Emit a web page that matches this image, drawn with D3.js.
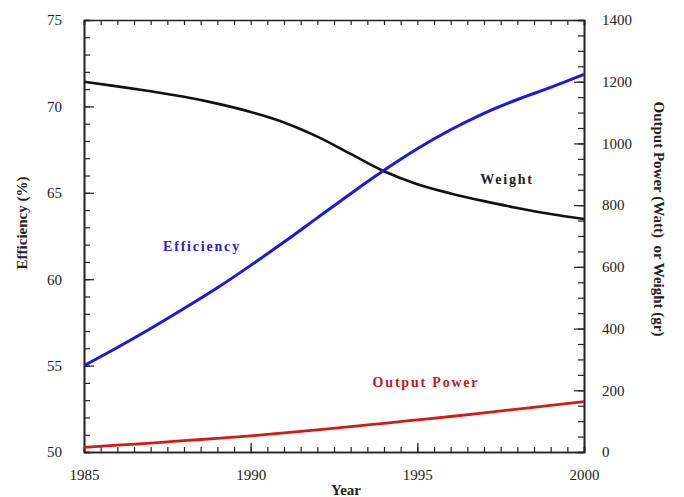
<!DOCTYPE html>
<html>
<head>
<meta charset="utf-8">
<script src="https://cdn.jsdelivr.net/npm/d3@7"></script>
<style>
  html, body { margin: 0; padding: 0; background: #fff; }
  svg { display: block; }
  .tick text { font-family: "Liberation Serif", "Times New Roman", serif; font-size: 15px; fill: #222; }
  .axis path, .axis line { stroke: #222; }
</style>
</head>
<body>
<svg id="chart" width="684" height="497"></svg>
<script>
// Yearly values, 1985-2000
const years = [1985, 1986, 1987, 1988, 1989, 1990, 1991, 1992, 1993, 1994, 1995, 1996, 1997, 1998, 1999, 2000];
const efficiency = [55.0, 56.05, 57.15, 58.3, 59.5, 60.8, 62.15, 63.55, 64.95, 66.3, 67.55, 68.65, 69.6, 70.4, 71.1, 71.85];   // %
const weight = [1200, 1185, 1169, 1151, 1129, 1102, 1068, 1022, 966, 910, 868, 838, 813, 791, 771, 755];          // gr
const outputPower = [15, 22, 29, 37, 44, 52, 62, 72, 82, 93, 104, 115, 127, 139, 151, 163];                    // Watt

const xTickLabels = [1985, 1990, 1995, 2000];
const leftTickLabels = [50, 55, 60, 65, 70, 75];
const rightTickLabels = [0, 200, 400, 600, 800, 1000, 1200, 1400];

const svg = d3.select("#chart");
const m = { left: 84, right: 100, top: 20, bottom: 45 };
const W = 684, H = 497;
const x0 = m.left, x1 = W - m.right, y0 = H - m.bottom, y1 = m.top;

const x = d3.scaleLinear().domain([1985, 2000]).range([x0, x1]);
const yL = d3.scaleLinear().domain([50, 75]).range([y0, y1]);
const yR = d3.scaleLinear().domain([0, 1400]).range([y0, y1]);

const minorX = d3.range(1985, 2000.01, 0.5);
const minorL = d3.range(50, 75.01, 1);
const minorR = d3.range(0, 1400.01, 50);

function addAxis(axis, tx, ty) {
  const g = svg.append("g").attr("class", "axis").attr("transform", `translate(${tx},${ty})`).call(axis);
  g.select(".domain").attr("stroke-width", 1.6);
  g.selectAll(".tick line").attr("stroke-width", 1.2);
  return g;
}

// minor ticks (inward, no labels)
addAxis(d3.axisBottom(x).tickValues(minorX).tickSize(-5).tickFormat(""), 0, y0);
addAxis(d3.axisTop(x).tickValues(minorX).tickSize(-5).tickFormat(""), 0, y1);
addAxis(d3.axisLeft(yL).tickValues(minorL).tickSize(-6).tickFormat(""), x0, 0);
addAxis(d3.axisRight(yR).tickValues(minorR).tickSize(-6).tickFormat(""), x1, 0);

// major ticks with labels
addAxis(d3.axisBottom(x).tickValues(xTickLabels).tickSizeInner(-9).tickSizeOuter(0).tickPadding(17).tickFormat(d3.format("d")), 0, y0);
addAxis(d3.axisLeft(yL).tickValues(leftTickLabels).tickSizeInner(-10).tickSizeOuter(0).tickPadding(22).tickFormat(d3.format("d")), x0, 0);
addAxis(d3.axisRight(yR).tickValues(rightTickLabels).tickSizeInner(-10).tickSizeOuter(0).tickPadding(18).tickFormat(d3.format("d")), x1, 0);

// curves
const lineL = d3.line().x((d, i) => x(years[i])).y(d => yL(d)).curve(d3.curveMonotoneX);
const lineR = d3.line().x((d, i) => x(years[i])).y(d => yR(d)).curve(d3.curveMonotoneX);

svg.append("path").datum(outputPower).attr("d", lineR)
  .attr("fill", "none").attr("stroke", "#d41a14").attr("stroke-width", 2.8);
svg.append("path").datum(weight).attr("d", lineR)
  .attr("fill", "none").attr("stroke", "#111").attr("stroke-width", 2.6);
svg.append("path").datum(efficiency).attr("d", lineL)
  .attr("fill", "none").attr("stroke", "#1a1ae0").attr("stroke-width", 3);

// series labels
const lbl = (t, cx, cy, col) => svg.append("text")
  .attr("x", cx).attr("y", cy).attr("text-anchor", "middle")
  .attr("font-family", "Liberation Serif, Times New Roman, serif")
  .attr("font-weight", "bold").attr("font-size", 14).attr("letter-spacing", 1.8)
  .attr("fill", col).text(t);
lbl("Efficiency", 202, 251, "#2222d8");
lbl("Weight", 507, 184, "#222");
lbl("Output Power", 426, 387, "#c8161a");

// axis titles
const title = (t, tx, ty, rot) => svg.append("text")
  .attr("transform", `translate(${tx},${ty}) rotate(${rot})`)
  .attr("text-anchor", "middle")
  .attr("font-family", "Liberation Serif, Times New Roman, serif")
  .attr("font-weight", "bold").attr("font-size", 15).attr("fill", "#222")
  .style("white-space", "pre").text(t);
title("Year", 346, 495, 0);
title("Efficiency (%)", 27, 223, -90);
title("Output Power (Watt)  or Weight (gr)", 654, 219, 90);
</script>
</body>
</html>
